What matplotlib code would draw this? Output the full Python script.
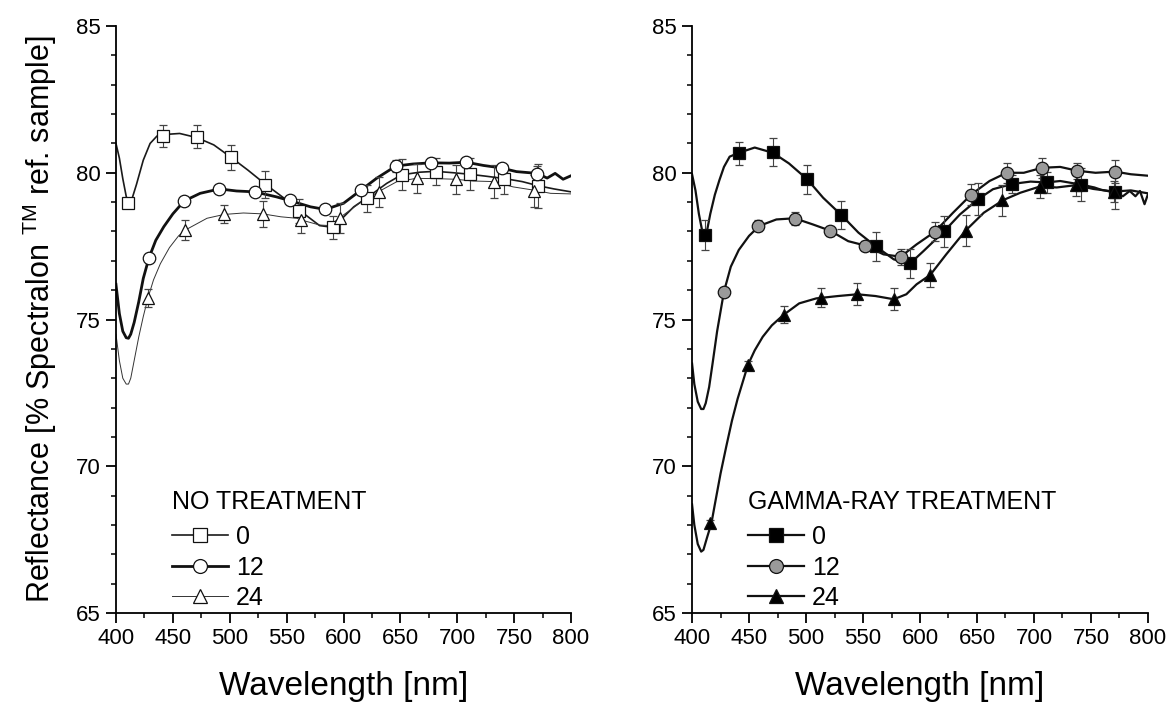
import matplotlib
matplotlib.use("Agg")
import matplotlib.pyplot as plt
from matplotlib.lines import Line2D
from matplotlib.ticker import MultipleLocator

plt.rcParams['font.family'] = ['Liberation Sans', 'DejaVu Sans']
plt.rcParams['mathtext.fontset'] = 'custom'
plt.rcParams['mathtext.rm'] = 'Liberation Sans'

# ---- dados: painel esquerdo (sem tratamento) ----
esq0_x = [400, 403, 406, 409, 411, 414, 418, 424, 430, 436, 441, 456, 471, 486, 501, 516, 531, 550, 561, 579,
          591, 609, 621, 638, 651, 667, 681, 697, 711, 726, 742, 757, 771, 785, 800]
esq0_y = [81.0, 80.5, 79.8, 79.2, 78.95, 79.1, 79.6, 80.43, 81.0, 81.25, 81.3, 81.34, 81.2, 80.95, 80.53, 80.09,
          79.62, 79.07, 78.73, 78.2, 78.14, 78.84, 79.16, 79.64, 79.93, 80.02, 80.05, 80.0, 79.95, 79.88, 79.8,
          79.7, 79.56, 79.45, 79.35]
esq0_mx = [411, 441, 471, 501, 531, 561, 591, 621, 651, 681, 711, 741, 771]
esq0_my = [78.98, 81.26, 81.23, 80.53, 79.6, 78.7, 78.14, 79.13, 79.94, 80.04, 79.95, 79.78, 79.56]
esq0_err = [0.1, 0.38, 0.4, 0.42, 0.47, 0.4, 0.4, 0.45, 0.54, 0.45, 0.55, 0.5, 0.75]

esq12_x = [400, 403, 406, 409, 411, 413, 416, 420, 424, 429, 435, 442, 450, 460, 474, 491, 506, 522, 541, 553,
           571, 584, 600, 615, 629, 646, 661, 677, 693, 708, 723, 738, 752, 770, 779, 786, 793, 800]
esq12_y = [76.2, 75.2, 74.6, 74.38, 74.36, 74.5, 74.9, 75.6, 76.4, 77.1, 77.7, 78.16, 78.6, 79.04, 79.3, 79.45,
           79.38, 79.35, 79.18, 79.05, 78.84, 78.75, 78.96, 79.4, 79.81, 80.23, 80.3, 80.34, 80.33, 80.36, 80.25,
           80.17, 80.04, 79.98, 79.82, 79.98, 79.78, 79.9]
esq12_mx = [429, 460, 491, 522, 553, 584, 615, 646, 677, 708, 739, 770]
esq12_my = [77.09, 79.04, 79.44, 79.34, 79.06, 78.75, 79.4, 80.22, 80.34, 80.36, 80.16, 79.97]
esq12_err = [0.1, 0.1, 0.1, 0.1, 0.1, 0.1, 0.15, 0.2, 0.15, 0.15, 0.15, 0.25]

esq24_x = [400, 403, 406, 409, 411, 413, 416, 420, 424, 428, 433, 439, 447, 455, 461, 480, 495, 512, 529, 545,
           559, 563, 579, 588, 597, 614, 631, 647, 664, 682, 698, 714, 732, 749, 767, 782, 800]
esq24_y = [74.5, 73.6, 73.0, 72.8, 72.8, 73.0, 73.6, 74.4, 75.1, 75.72, 76.35, 76.9, 77.45, 77.85, 78.05, 78.45,
           78.58, 78.63, 78.6, 78.5, 78.45, 78.39, 78.22, 78.2, 78.48, 78.96, 79.36, 79.7, 79.81, 79.8, 79.78,
           79.72, 79.7, 79.52, 79.41, 79.3, 79.28]
esq24_mx = [428, 461, 495, 529, 563, 597, 631, 665, 699, 732, 767]
esq24_my = [75.74, 78.05, 78.59, 78.6, 78.39, 78.46, 79.34, 79.81, 79.78, 79.7, 79.38]
esq24_err = [0.3, 0.35, 0.3, 0.45, 0.45, 0.5, 0.5, 0.5, 0.5, 0.55, 0.55]

# ---- dados: painel direito (raios gama) ----
dir0_x = [400, 403, 406, 409, 411, 413, 416, 420, 424, 428, 433, 441, 455, 471, 485, 501, 515, 531, 546, 561,
          577, 591, 603, 621, 635, 651, 664, 681, 697, 711, 723, 741, 753, 759, 771, 778, 784, 789, 793, 797, 800]
dir0_y = [79.95, 79.4, 78.6, 78.0, 77.88, 78.0, 78.6, 79.25, 79.75, 80.2, 80.55, 80.68, 80.86, 80.68, 80.32,
          79.78, 79.15, 78.56, 77.96, 77.5, 77.05, 76.9, 77.33, 78.0, 78.58, 79.1, 79.44, 79.62, 79.7, 79.67,
          79.72, 79.6, 79.5, 79.42, 79.33, 79.2, 79.38, 79.2, 79.38, 78.93, 79.27]
dir0_mx = [411, 441, 471, 501, 531, 561, 591, 621, 651, 681, 711, 741, 771]
dir0_my = [77.88, 80.66, 80.7, 79.78, 78.56, 77.5, 76.91, 78.0, 79.1, 79.62, 79.67, 79.6, 79.36]
dir0_err = [0.5, 0.4, 0.48, 0.5, 0.48, 0.49, 0.48, 0.52, 0.55, 0.3, 0.35, 0.55, 0.6]

dir12_x = [400, 402, 405, 408, 410, 412, 415, 418, 422, 428, 434, 441, 450, 459, 474, 490, 506, 521, 537, 552,
           568, 583, 597, 613, 629, 645, 661, 676, 691, 707, 723, 738, 754, 771, 785, 800]
dir12_y = [73.5, 72.8, 72.2, 71.95, 71.95, 72.15, 72.7, 73.5, 74.6, 75.95, 76.8, 77.37, 77.85, 78.19, 78.41,
           78.45, 78.24, 78.03, 77.67, 77.52, 77.22, 77.14, 77.56, 77.99, 78.64, 79.26, 79.72, 80.0, 80.0, 80.17,
           80.2, 80.07, 80.0, 80.04, 79.95, 79.9]
dir12_mx = [428, 458, 490, 521, 552, 583, 613, 645, 676, 707, 738, 771]
dir12_my = [75.95, 78.2, 78.44, 78.03, 77.52, 77.14, 77.99, 79.26, 80.0, 80.17, 80.07, 80.04]
dir12_err = [0.1, 0.18, 0.23, 0.17, 0.15, 0.27, 0.33, 0.37, 0.35, 0.35, 0.27, 0.4]

dir24_x = [400, 402, 405, 408, 410, 413, 417, 420, 425, 430, 435, 440, 449, 455, 462, 470, 480, 494, 509, 528,
           545, 561, 577, 588, 597, 609, 623, 640, 656, 673, 688, 705, 720, 737, 752, 770, 785, 800]
dir24_y = [68.7, 68.0, 67.35, 67.09, 67.15, 67.55, 68.06, 68.7, 69.75, 70.67, 71.55, 72.3, 73.45, 73.95, 74.41,
           74.8, 75.15, 75.55, 75.72, 75.8, 75.86, 75.8, 75.69, 75.86, 76.2, 76.52, 77.22, 78.03, 78.64, 79.07,
           79.32, 79.53, 79.5, 79.58, 79.45, 79.36, 79.4, 79.3]
dir24_mx = [416, 449, 481, 513, 545, 577, 609, 640, 672, 705, 737, 770]
dir24_my = [68.06, 73.45, 75.17, 75.74, 75.86, 75.69, 76.52, 78.03, 79.07, 79.53, 79.58, 79.36]
dir24_err = [0.1, 0.15, 0.3, 0.33, 0.38, 0.38, 0.4, 0.54, 0.53, 0.38, 0.36, 0.37]

rotulos = ['0', '12', '24']


def desenhaSerie(ax, cx, cy, mx, my, err, marcador, face, lw, cor):
    ax.plot(cx, cy, color=cor, lw=lw, zorder=2)  # curva continua
    ax.errorbar(mx, my, yerr=err, fmt=marcador, ms=9, mfc=face, mec='#111111', mew=0.9,
                ecolor='#444444', elinewidth=0.8, capsize=3, capthick=0.8, zorder=3)
    return Line2D([], [], color=cor, lw=lw, marker=marcador, ms=10, mfc=face, mec='#111111', mew=0.9)


def ajustaEixo(ax, titulo, handles):
    ax.set_xlim(400, 800)
    ax.set_ylim(65, 85)
    ax.spines['top'].set_visible(False)
    ax.spines['right'].set_visible(False)
    ax.spines['left'].set_linewidth(1.3)
    ax.spines['bottom'].set_linewidth(1.3)
    ax.xaxis.set_major_locator(MultipleLocator(50))
    ax.xaxis.set_minor_locator(MultipleLocator(25))
    ax.yaxis.set_major_locator(MultipleLocator(5))
    ax.yaxis.set_minor_locator(MultipleLocator(1))
    ax.tick_params(which='major', direction='out', length=7, width=1.3, labelsize=16, pad=4)
    ax.tick_params(which='minor', direction='out', length=3.5, width=1.1)
    ax.set_xlabel('Wavelength [nm]', fontsize=24, labelpad=16)
    leg = ax.legend(handles, rotulos, title=titulo, loc='lower left', bbox_to_anchor=(0.123, 0.005),
                    frameon=False, fontsize=18, title_fontsize=18, alignment='left', handlelength=2.25,
                    handletextpad=0.3, labelspacing=0.26, borderpad=0, borderaxespad=0)
    leg._legend_box.sep = 8  # espaco entre titulo e entradas
    return leg


fig = plt.figure(figsize=(11.69, 7.14), dpi=100)
ax1 = fig.add_axes([0.0992, 0.1415, 0.3893, 0.822])
ax2 = fig.add_axes([0.592, 0.1415, 0.390, 0.822])

# painel esquerdo: marcadores vazados, espessuras diferentes
h1 = [desenhaSerie(ax1, esq0_x, esq0_y, esq0_mx, esq0_my, esq0_err, 's', 'white', 1.2, '#1a1a1a'),
      desenhaSerie(ax1, esq12_x, esq12_y, esq12_mx, esq12_my, esq12_err, 'o', 'white', 2.0, '#111111'),
      desenhaSerie(ax1, esq24_x, esq24_y, esq24_mx, esq24_my, esq24_err, '^', 'white', 0.7, '#333333')]
ajustaEixo(ax1, 'NO TREATMENT', h1)
ax1.set_ylabel(r'Reflectance [% Spectralon $^{\mathrm{TM}}$ ref. sample]', fontsize=22, labelpad=12)

# painel direito: marcadores cheios
h2 = [desenhaSerie(ax2, dir0_x, dir0_y, dir0_mx, dir0_my, dir0_err, 's', 'black', 1.6, '#111111'),
      desenhaSerie(ax2, dir12_x, dir12_y, dir12_mx, dir12_my, dir12_err, 'o', '#9a9a9a', 1.6, '#111111'),
      desenhaSerie(ax2, dir24_x, dir24_y, dir24_mx, dir24_my, dir24_err, '^', 'black', 1.6, '#111111')]
ajustaEixo(ax2, 'GAMMA-RAY TREATMENT', h2)

fig.savefig('out.png', dpi=100)
